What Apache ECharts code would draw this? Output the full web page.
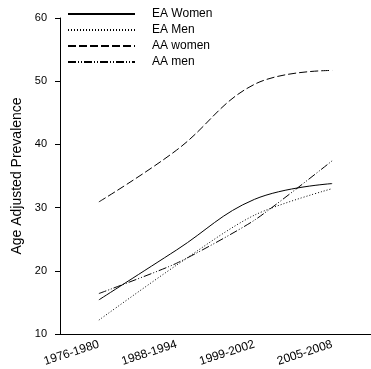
<!DOCTYPE html>
<html>
<head>
<meta charset="utf-8">
<script src="https://cdn.jsdelivr.net/npm/echarts@6/dist/echarts.min.js"></script>
<style>
  html, body { margin: 0; padding: 0; background: #fff; }
  #chart { width: 371px; height: 369px; }
</style>
</head>
<body>
<div id="chart"></div>
<script>
var periods = ['1976-1980', '1988-1994', '1999-2002', '2005-2008'];
var eaWomen = [15.4, 23.3, 31.3, 33.8];
var eaMen = [12.2, 20.9, 28.8, 33.0];
var aaWomen = [30.9, 39.1, 49.5, 51.7];
var aaMen = [16.4, 21.2, 28.0, 37.4];

var font = 'Liberation Sans, Arial, sans-serif';
var chart = echarts.init(document.getElementById('chart'));

function line(name, data, dash, smooth) {
  return {
    name: name,
    type: 'line',
    data: data,
    smooth: smooth,
    symbol: 'none',
    lineStyle: { color: '#000', width: 1, type: dash },
    itemStyle: { color: '#000' }
  };
}

var option = {
  animation: false,
  backgroundColor: '#fff',
  grid: { left: 60, top: 18, width: 316, height: 316 },
  legend: {
    orient: 'vertical',
    left: 62,
    top: 3,
    itemWidth: 67,
    itemHeight: 10,
    itemGap: 4,
    itemStyle: { opacity: 0 },
    textStyle: { fontFamily: font, fontSize: 12, color: '#000', padding: [0, 0, 0, 12] },
    data: ['EA Women', 'EA Men', 'AA women', 'AA men']
  },
  xAxis: {
    type: 'category',
    data: periods,
    boundaryGap: true,
    axisLine: { lineStyle: { color: '#000', width: 1 } },
    axisTick: { alignWithLabel: true, length: 5, lineStyle: { color: '#000' } },
    axisLabel: { rotate: 18, fontFamily: font, fontSize: 12, color: '#000', margin: 10 }
  },
  yAxis: {
    type: 'value',
    min: 10,
    max: 60,
    interval: 10,
    name: 'Age Adjusted Prevalence',
    nameLocation: 'middle',
    nameGap: 35,
    nameTextStyle: { fontFamily: font, fontSize: 14, color: '#000' },
    splitLine: { show: false },
    axisLine: { show: true, lineStyle: { color: '#000', width: 1 } },
    axisTick: { show: true, length: 5, lineStyle: { color: '#000' } },
    axisLabel: { fontFamily: font, fontSize: 11, color: '#000', margin: 13 }
  },
  series: [
    line('EA Women', eaWomen, 'solid', 0.4),
    line('EA Men', eaMen, [1, 2], 0.3),
    line('AA women', aaWomen, [8, 3], 0.4),
    line('AA men', aaMen, [8, 2, 1, 2, 1, 2], 0.2)
  ]
};

chart.setOption(option);
</script>
</body>
</html>
